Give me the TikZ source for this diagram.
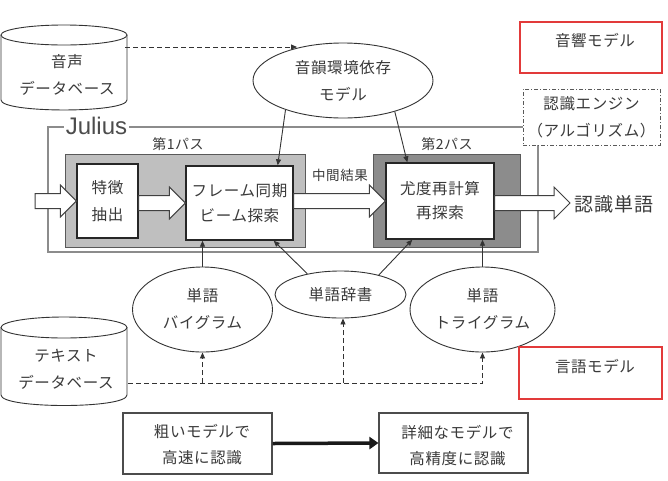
\documentclass[tikz,border=0pt]{standalone}
\usepackage{fontspec}
\setmainfont{Noto Sans CJK JP}[LetterSpace=4]
\newfontfamily\latinfont{Liberation Sans}
\usetikzlibrary{shapes.geometric,arrows.meta,calc}
\definecolor{txtgray}{HTML}{3A3A3A}
\definecolor{redbox}{HTML}{E23A3A}
\newcommand\barrowpath[2]{%
  \draw[barrow] let \p1=(#1), \p2=(#2) in
   (\x1,\y2+7.5pt) -- (\x2-16pt,\y2+7.5pt) -- (\x2-16pt,\y2+16pt) -- (\x2,\y2)
   -- (\x2-16pt,\y2-16pt) -- (\x2-16pt,\y2-7.5pt) -- (\x1,\y2-7.5pt) -- cycle;}
\begin{document}
\begin{tikzpicture}[x=1pt,y=-1pt,
  txt/.style={font=\fontsize{15.5}{27}\selectfont, text=txtgray, align=center, inner sep=0pt},
  smalltxt/.style={font=\fontsize{14}{16}\selectfont, text=txtgray, inner sep=0pt},
  proc/.style={draw=black!85, line width=1.4pt, fill=white, inner sep=0pt, txt},
  ell/.style={ellipse, draw=black!80, line width=0.9pt, fill=white, inner sep=0pt, txt},
  passbox/.style={draw=black!65, line width=0.8pt, inner sep=0pt},
  plainbox/.style={draw=black!70, line width=1.1pt, fill=white, inner sep=0pt},
  redframe/.style={draw=redbox, line width=1.1pt, fill=white, inner sep=0pt},
  arr/.style={-{Triangle[length=6pt,width=5pt]}, line width=0.9pt, draw=black!80},
  darr/.style={arr, dash pattern=on 5pt off 3pt},
  barrow/.style={draw=black!75, line width=1pt, fill=white, line join=miter},
  cyl/.style={draw=black!80, line width=0.9pt}
]
\useasboundingbox (0,0) rectangle (668,480);
\fill[white] (0,0) rectangle (668,480);

% Julius frame
\node[draw=black!45, line width=1.6pt, minimum width=490pt, minimum height=125pt, inner sep=0pt] (jf) at (293,189.5) {};
\node[fill=white, inner sep=2pt, font=\latinfont\fontsize{24}{24}\selectfont, text=black!70] (jl) at (96.5,126) {Julius};

% passes
\node[passbox, fill=black!25, minimum width=240pt, minimum height=93pt] (p1) at (185,200.5) {};
\node[passbox, fill=black!45, minimum width=147pt, minimum height=93pt] (p2) at (446.5,200.5) {};
\node[smalltxt] (p1l) at (178,144) {第1パス};
\node[smalltxt] (p2l) at (447,144) {第2パス};

% process boxes
\node[proc, minimum width=61pt, minimum height=74pt] (fe) at (107.5,201) {特徴\\抽出};
\node[proc, minimum width=107pt, minimum height=74pt, font=\fontsize{15.5}{25}\selectfont] (fb) at (239.5,203) {フレーム同期\\ビーム探索};
\node[proc, minimum width=108pt, minimum height=76pt, font=\fontsize{15.5}{24}\selectfont] (lk) at (440,201) {尤度再計算\\再探索};

\node[smalltxt, font=\fontsize{13.5}{15}\selectfont] (mid) at (340,175) {中間結果};
\node[txt, font=\fontsize{19}{20}\selectfont] (out) at (614,204) {認識単語};

% block arrows
\coordinate (inp) at (35,202);
\coordinate (outp) at (570,203);
\barrowpath{inp}{fe.west}
\barrowpath{fe.east}{fb.west}
\barrowpath{fb.east}{lk.west}
\barrowpath{lk.east}{outp}

% ellipses
\node[ell, minimum width=180pt, minimum height=75pt] (am) at (343,80.5) {音韻環境依存\\モデル};
\node[ell, minimum width=140pt, minimum height=85pt] (bg) at (202.5,309.5) {単語\\バイグラム};
\node[ell, minimum width=131pt, minimum height=47pt] (dc) at (340.5,294.5) {単語辞書};
\node[ell, minimum width=145pt, minimum height=85pt] (tg) at (482.5,309.5) {単語\\トライグラム};

% side boxes
\node[redframe, minimum width=142pt, minimum height=51pt] (ac) at (591,47.5) {};
\node[txt] (acl) at (595,41) {音響モデル};
\node[draw=black!65, line width=0.9pt, dash pattern=on 4pt off 2pt on 1pt off 2pt, fill=white, minimum width=137pt, minimum height=56pt, txt] (eng) at (591.5,117) {認識エンジン\\（アルゴリズム）};
\node[redframe, minimum width=143pt, minimum height=52pt] (lm) at (590.5,373) {};
\node[txt] (lml) at (595,367) {言語モデル};

% databases
\draw[cyl, fill=white] (1,35) -- (1,100) .. controls (1,113.3) and (127,113.3) .. (127,100) -- (127,35);
\draw[cyl, fill=white] (64,35) ellipse [x radius=63, y radius=10];
\node[txt] (vdb) at (67,74.5) {音声\\データベース};
\draw[cyl, fill=white] (1,327.5) -- (1,395) .. controls (1,409) and (127,409) .. (127,395) -- (127,327.5);
\draw[cyl, fill=white] (64,327.5) ellipse [x radius=63, y radius=10.5];
\node[txt] (tdb) at (66,369) {テキスト\\データベース};

% connectors
\coordinate (vdbout) at (125,47);
\coordinate (amin) at (297,47);
\draw[darr] (vdbout) -- (amin);
\draw[arr] (am.207) -- ($(fb.north east)+(-16,0)$);
\draw[arr] (am.329) -- ($(lk.north west)+(22,0)$);
\draw[arr] (bg.north) -- (bg.north |- fb.south);
\draw[arr] (dc.148) -- ($(fb.south east)+(-20,0)$);
\draw[arr] (dc.27) -- ($(lk.south west)+(27,0)$);
\draw[arr] (tg.north) -- (tg.north |- lk.south);

\coordinate (tdbout) at (128,383);
\draw[darr] (tdbout) -| (tg.south);
\draw[darr] (bg.south |- tdbout) -- (bg.south);
\draw[darr] ($(dc.south |- tdbout)+(2.5,0)$) -- ($(dc.south)+(2.5,0)$);

% legend
\node[plainbox, minimum width=149pt, minimum height=61pt] (rough) at (197.5,443.5) {};
\node[txt, font=\fontsize{15.5}{26}\selectfont] (roughl) at (202,445) {粗いモデルで\\高速に認識};
\node[plainbox, minimum width=149pt, minimum height=60pt] (fine) at (453.5,443) {};
\node[txt, font=\fontsize{15.5}{26}\selectfont] (finel) at (457.5,446) {詳細なモデルで\\高精度に認識};
\draw[line width=3.5pt, draw=black!90, -{Triangle[length=9pt,width=12pt]}] (rough.east) -- (fine.west);
\end{tikzpicture}
\end{document}
